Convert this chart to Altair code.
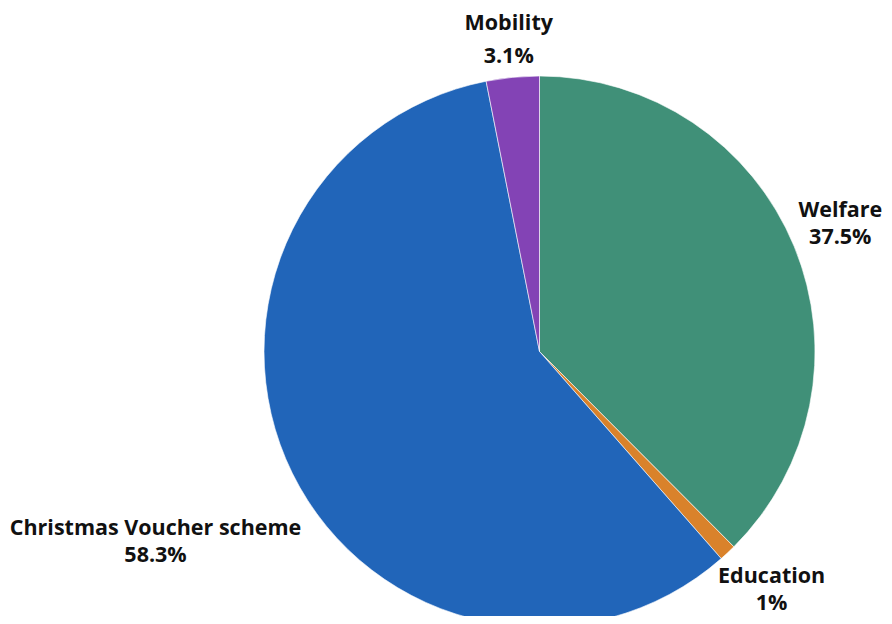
import altair as alt
import pandas as pd

categories = ["Welfare", "Education", "Christmas Voucher scheme", "Mobility"]
shares = [37.5, 1.0, 58.3, 3.1]
share_labels = ["37.5%", "1%", "58.3%", "3.1%"]
colors = ["#409078", "#d9822b", "#2165b9", "#8343b5"]

df = pd.DataFrame({
    "category": categories,
    "share": shares,
    "order": list(range(len(categories))),
    "label": [f"{c}\n{s}" for c, s in zip(categories, share_labels)],
})

CX, CY, R = 531.5, 343.5, 275.5
label_radius = {"Welfare": 333, "Education": 340, "Christmas Voucher scheme": 428, "Mobility": 316}
label_dx = {"Welfare": -7, "Education": 0, "Christmas Voucher scheme": 0, "Mobility": 0}
label_dy = {"Welfare": -13.5, "Education": -23, "Christmas Voucher scheme": -11.5, "Mobility": -13}
label_lh = {"Welfare": 27, "Education": 27, "Christmas Voucher scheme": 27, "Mobility": 33}

base = alt.Chart(df)

pie = base.mark_arc(outerRadius=R, stroke="white", strokeWidth=0.6).encode(
    theta=alt.Theta("share:Q", stack=True),
    order=alt.Order("order:Q", sort="ascending"),
    color=alt.Color("category:N", scale=alt.Scale(domain=categories, range=colors), legend=None),
    x=alt.value(CX),
    y=alt.value(CY),
)

layers = [pie]
for c in categories:
    layers.append(
        base.mark_text(
            font="Open Sans", fontWeight="bold", fontSize=21.5, lineBreak="\n",
            lineHeight=label_lh[c], align="center", baseline="middle",
            dx=label_dx[c], dy=label_dy[c], color="#111111",
        ).encode(
            theta=alt.Theta("share:Q", stack=True),
            order=alt.Order("order:Q", sort="ascending"),
            radius=alt.value(label_radius[c]),
            text="label:N",
            x=alt.value(CX),
            y=alt.value(CY),
            opacity=alt.condition(alt.datum.category == c, alt.value(1), alt.value(0)),
        )
    )

chart = alt.layer(*layers).properties(
    width=876, height=608, autosize=alt.AutoSizeParams(type="none"), padding=0,
).configure_view(stroke=None)

chart.save("out.html", embed_options={"renderer": "svg", "actions": False})
